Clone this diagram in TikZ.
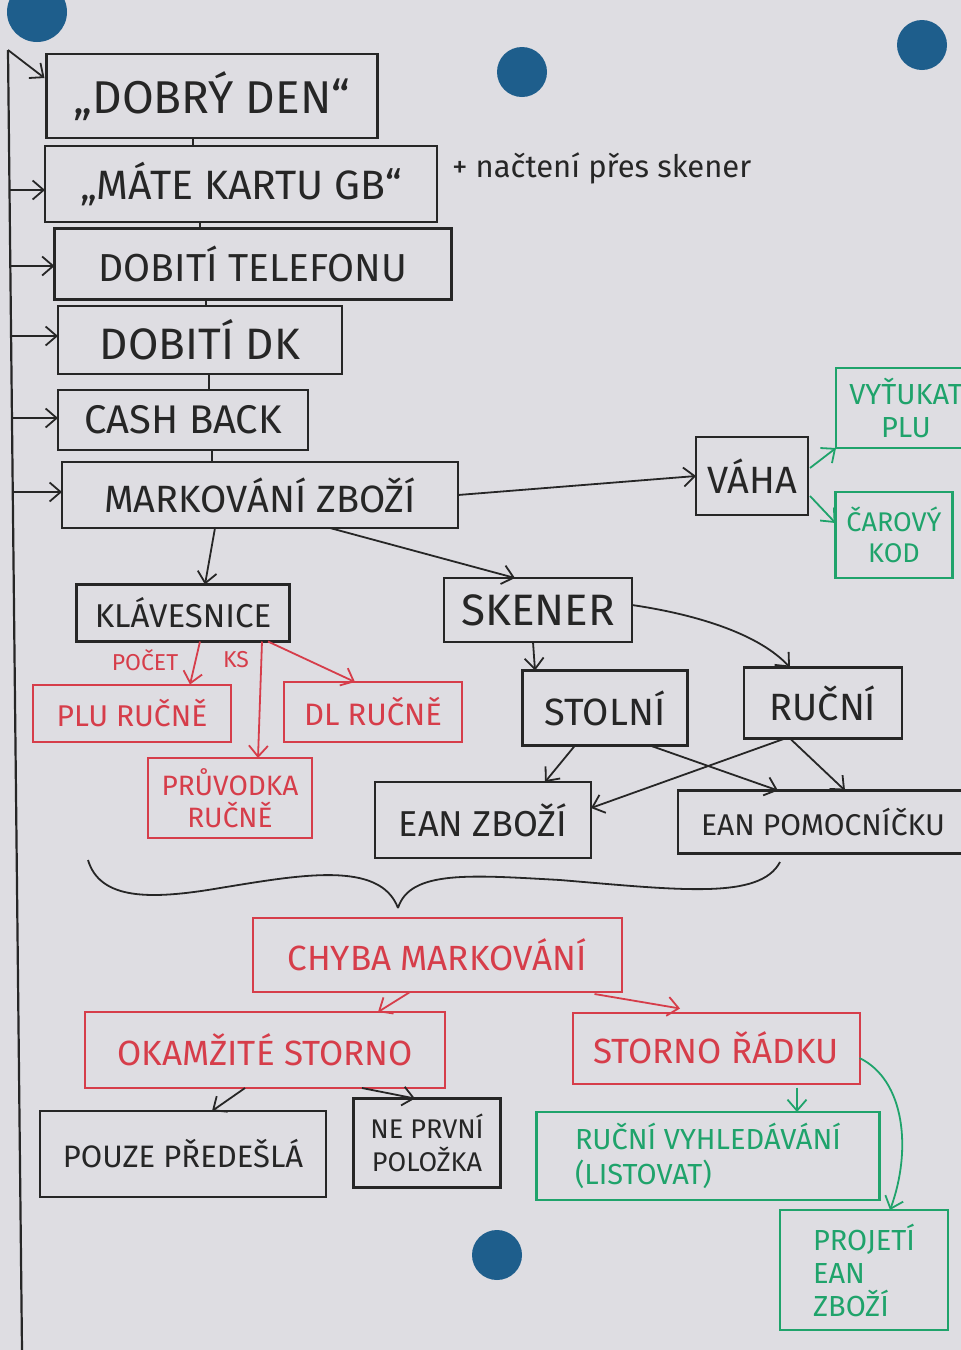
\documentclass[tikz,border=0pt]{standalone}
\usepackage{fontspec}
\setmainfont{Fira Sans}
\usetikzlibrary{arrows.meta,calc}
\definecolor{paper}{HTML}{DEDDE2}
\definecolor{ink}{HTML}{262626}
\definecolor{redink}{HTML}{D63D4A}
\definecolor{greenink}{HTML}{1FA36B}
\definecolor{magnet}{HTML}{1E5E8C}
\tikzset{
  every node/.style={inner sep=0pt, outer sep=0pt},
  bk/.style={draw=ink, line width=2.6pt, text=ink},
  rd/.style={draw=redink, line width=2pt, text=redink},
  gn/.style={draw=greenink, line width=2.4pt, text=greenink},
  arr/.style={draw=ink, line width=1.8pt, -{Straight Barb[length=11pt,width=19pt]}},
  rarr/.style={arr, draw=redink},
  garr/.style={arr, draw=greenink},
  fs/.style={font=\fontsize{#1}{#1}\selectfont},
  ms/.style={fill=magnet, draw=none},
}
\begin{document}
\begin{tikzpicture}[x=1pt,y=-1pt]
\clip (0,0) rectangle (961,1350);
\fill[paper] (0,0) rectangle (961,1350);

% magnets
\fill[ms] (37,12) circle (30);
\fill[ms] (522,72) circle (25);
\fill[ms] (922,45) circle (25);
\fill[ms] (497,1255) circle (25);

% main column
\node[bk, fs=46, minimum width=331, minimum height=84] (b1) at (212,96) {„DOBRÝ DEN“};
\node[bk, fs=41, minimum width=392, minimum height=76] (b2) at (241,184) {„MÁTE KARTU GB“};
\node[bk, fs=39, minimum width=397, minimum height=71] (b3) at (253,264) {DOBITÍ TELEFONU};
\node[bk, fs=44, minimum width=284, minimum height=68] (b4) at (200,340) {DOBITÍ DK};
\node[bk, fs=40, minimum width=250, minimum height=60] (b5) at (183,420) {CASH BACK};
\node[bk, fs=38, minimum width=396, minimum height=66] (b6) at (260,495) {MARKOVÁNÍ ZBOŽÍ};
\node[text=ink, fs=31, anchor=west] (note) at (452,168) {+ načtení přes skener};

% left rail
\coordinate (top) at (8,50);
\coordinate (bot) at (22,1350);
\coordinate (l2) at (10,190);
\coordinate (l3) at (10,266);
\coordinate (l4) at (11,336);
\coordinate (l5) at (12,418);
\coordinate (l6) at (13,492);
\draw[ink, line width=2.2pt] (top) -- (bot);
\draw[arr] (top) -- ($(b1.west)+(-2,-18)$);
\draw[arr] (l2) -- (l2 -| b2.west);
\draw[arr] (l3) -- (l3 -| b3.west);
\draw[arr] (l4) -- (l4 -| b4.west);
\draw[arr] (l5) -- (l5 -| b5.west);
\draw[arr] (l6) -- (l6 -| b6.west);

% stack connectors
\coordinate (v1) at (193,0);
\coordinate (v2) at (200,0);
\coordinate (v3) at (206,0);
\coordinate (v4) at (209,0);
\coordinate (v5) at (212,0);
\draw[ink, line width=1.8pt] (b1.south -| v1) -- (b2.north -| v1);
\draw[ink, line width=1.8pt] (b2.south -| v2) -- (b3.north -| v2);
\draw[ink, line width=1.8pt] (b3.south -| v3) -- (b4.north -| v3);
\draw[ink, line width=1.8pt] (b4.south -| v4) -- (b5.north -| v4);
\draw[ink, line width=1.8pt] (b5.south -| v5) -- (b6.north -| v5);

% scale branch
\node[bk, fs=38, minimum width=112, minimum height=78] (vaha) at (752,476) {VÁHA};
\node[gn, fs=29, minimum width=140, minimum height=80, align=center] (vyt) at (906,408) {VYŤUKAT\\[4pt]PLU};
\node[gn, fs=27, minimum width=117, minimum height=86, align=center] (car) at (894,535) {ČAROVÝ\\[4pt]KOD};
\draw[arr] (b6.east) -- (vaha.west);
\draw[garr] ($(vaha.east)+(2,-8)$) -- (vyt.south west);
\draw[garr] ($(vaha.east)+(2,20)$) -- ($(car.west)+(0,-12)$);

% keyboard branch
\node[bk, fs=33, minimum width=213, minimum height=57] (klav) at (183,613) {KLÁVESNICE};
\node[rd, fs=30, minimum width=198, minimum height=57] (plu) at (132,713) {PLU RUČNĚ};
\node[rd, fs=31, minimum width=178, minimum height=60] (dl) at (373,712) {DL RUČNĚ};
\node[rd, fs=28, minimum width=164, minimum height=80, align=center] (pruv) at (230,798) {PRŮVODKA\\[4pt]RUČNĚ};
\node[text=redink, fs=23] (pocet) at (145,660) {POČET};
\node[text=redink, fs=23] (ks) at (236,660) {KS};
\draw[arr] ($(b6.south)+(-45,0)$) -- ($(klav.north)+(22,0)$);
\draw[rarr] ($(klav.south)+(17,0)$) -- ($(plu.north)+(58,0)$);
\draw[rarr] ($(klav.south)+(79,0)$) -- ($(pruv.north)+(28,0)$);
\draw[rarr] ($(klav.south)+(85,0)$) -- ($(dl.north)+(-18,0)$);

% scanner branch
\node[bk, fs=44, minimum width=188, minimum height=64] (sken) at (538,610) {SKENER};
\node[bk, fs=38, minimum width=165, minimum height=75] (stol) at (605,708) {STOLNÍ};
\node[bk, fs=38, minimum width=158, minimum height=71] (ruc) at (823,703) {RUČNÍ};
\node[bk, fs=36, minimum width=216, minimum height=76] (eanz) at (483,820) {EAN ZBOŽÍ};
\node[bk, fs=30, minimum width=290, minimum height=63] (eanp) at (823,822) {EAN POMOCNÍČKU};
\draw[arr] ($(b6.south)+(70,0)$) -- ($(sken.north)+(-23,0)$);
\draw[arr] ($(sken.south)+(-5,0)$) -- ($(stol.north)+(-70,0)$);
\draw[arr] ($(sken.east)+(0,-5)$) .. controls (700,615) and (760,635) .. ($(ruc.north)+(-33,0)$);
\draw[arr] ($(stol.south)+(-30,0)$) -- ($(eanz.north)+(62,0)$);
\draw[arr] ($(stol.south)+(45,0)$) -- ($(eanp.north)+(-45,0)$);
\draw[arr] ($(ruc.south)+(-38,0)$) -- ($(eanz.east)+(0,-12)$);
\draw[arr] ($(ruc.south)+(-33,0)$) -- ($(eanp.north)+(22,0)$);

% brace
\coordinate (tip) at (398,908);
\draw[ink, line width=1.8pt] (88,860) .. controls (100,900) and (150,900) .. (220,888)
  .. controls (300,875) and (380,860) .. (tip);
\draw[ink, line width=1.8pt] (tip) .. controls (410,870) and (470,875) .. (560,880)
  .. controls (680,890) and (760,900) .. (780,862);

% errors
\node[rd, fs=35, minimum width=369, minimum height=74] (chyba) at (437,955) {CHYBA MARKOVÁNÍ};
\node[rd, fs=35, minimum width=360, minimum height=76] (okam) at (265,1050) {OKAMŽITÉ STORNO};
\node[rd, fs=35, minimum width=287, minimum height=71] (storno) at (716,1048) {STORNO ŘÁDKU};
\node[bk, fs=31, minimum width=286, minimum height=86] (pouze) at (183,1154) {POUZE PŘEDEŠLÁ};
\node[bk, fs=27, minimum width=147, minimum height=89, align=center] (neprv) at (427,1143) {NE PRVNÍ\\[6pt]POLOŽKA};
\node[gn, fs=29, minimum width=343, minimum height=88, align=left] (rucvyh) at (708,1156) {RUČNÍ VYHLEDÁVÁNÍ\\[6pt](LISTOVAT)};
\node[gn, fs=29, minimum width=168, minimum height=120, align=left] (proj) at (864,1270) {PROJETÍ\\[4pt]EAN\\[4pt]ZBOŽÍ};
\draw[rarr] ($(chyba.south)+(-27,0)$) -- ($(okam.north)+(113,0)$);
\draw[rarr] ($(chyba.south east)+(-27,2)$) -- ($(storno.north)+(-36,-4)$);
\draw[arr] ($(okam.south)+(-20,0)$) -- ($(pouze.north)+(29,0)$);
\draw[arr] ($(okam.south)+(97,0)$) -- ($(neprv.north)+(-12,0)$);
\draw[garr] ($(storno.south)+(81,4)$) -- ($(rucvyh.north)+(89,0)$);
\draw[garr] ($(storno.east)+(0,10)$) .. controls (905,1080) and (912,1150) .. ($(proj.north)+(26,0)$);
\end{tikzpicture}
\end{document}
